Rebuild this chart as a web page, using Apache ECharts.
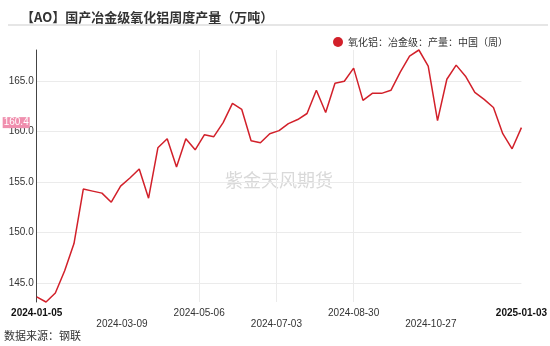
<!DOCTYPE html>
<html>
<head>
<meta charset="utf-8">
<script src="https://cdn.jsdelivr.net/npm/echarts@6/dist/echarts.min.js"></script>
<style>
  html, body { margin: 0; padding: 0; background: #fff; }
  #chart { width: 550px; height: 346px; }
</style>
</head>
<body>
<div id="chart"></div>
<script>
// Weekly dates (Fridays)
var weekDates = [
  '2024-01-05','2024-01-12','2024-01-19','2024-01-26',
  '2024-02-02','2024-02-09','2024-02-16','2024-02-23',
  '2024-03-01','2024-03-08','2024-03-15','2024-03-22','2024-03-29',
  '2024-04-05','2024-04-12','2024-04-19','2024-04-26',
  '2024-05-03','2024-05-10','2024-05-17','2024-05-24','2024-05-31',
  '2024-06-07','2024-06-14','2024-06-21','2024-06-28',
  '2024-07-05','2024-07-12','2024-07-19','2024-07-26',
  '2024-08-02','2024-08-09','2024-08-16','2024-08-23','2024-08-30',
  '2024-09-06','2024-09-13','2024-09-20','2024-09-27',
  '2024-10-04','2024-10-11','2024-10-18','2024-10-25',
  '2024-11-01','2024-11-08','2024-11-15','2024-11-22','2024-11-29',
  '2024-12-06','2024-12-13','2024-12-20','2024-12-27',
  '2025-01-03'
];

// Metallurgical-grade alumina output, 10k tonnes
var output = [
  143.6, 143.1, 144.0, 146.2,
  148.9, 154.3, 154.1, 153.9,
  153.0, 154.6, 155.4, 156.3, 153.4,
  158.4, 159.3, 156.5, 159.3,
  158.2, 159.7, 159.5, 160.9, 162.8,
  162.2, 159.1, 158.9, 159.8,
  160.1, 160.8, 161.2, 161.8,
  164.1, 161.9, 164.8, 165.0, 166.3,
  163.1, 163.8, 163.8, 164.1,
  165.9, 167.5, 168.1, 166.5,
  161.1, 165.2, 166.6, 165.5, 163.9,
  163.2, 162.4, 159.8, 158.3,
  160.4
];

// Date labels along the x axis
var xTickLabels = ['2024-01-05','2024-03-09','2024-05-06','2024-07-03','2024-08-30','2024-10-27','2025-01-03'];

var seriesName = '氧化铝：冶金级：产量：中国（周）';
var titleText = '【AO】国产冶金级氧化铝周度产量（万吨）';
var sourceText = '数据来源：钢联';
var watermarkText = '紫金天风期货';
var latestValue = output[output.length - 1];

function toTime(s) {
  var p = s.split('-');
  return new Date(+p[0], +p[1] - 1, +p[2]).getTime();
}
function fmtDate(t) {
  var d = new Date(Math.round(t));
  var m = d.getMonth() + 1, day = d.getDate();
  return d.getFullYear() + '-' + (m < 10 ? '0' : '') + m + '-' + (day < 10 ? '0' : '') + day;
}

var labelTimes = xTickLabels.map(toTime);
var gridTimes = labelTimes.slice(1, labelTimes.length - 1);

var chart = echarts.init(document.getElementById('chart'), null, { renderer: 'canvas' });

chart.setOption({
  animation: false,
  backgroundColor: '#fff',
  textStyle: { fontFamily: 'Liberation Sans, Arial, "Noto Sans CJK SC", sans-serif' },
  title: {
    text: titleText,
    left: 16,
    top: 6,
    textStyle: {
      fontSize: 13,
      fontWeight: 'bold',
      color: '#333',
      fontFamily: '"Noto Sans CJK SC", sans-serif'
    }
  },
  legend: {
    left: 328,
    top: 32,
    icon: 'circle',
    itemWidth: 10,
    itemHeight: 10,
    itemGap: 4,
    textStyle: { fontSize: 10, color: '#333', fontFamily: '"Noto Sans CJK SC", sans-serif' },
    data: [seriesName]
  },
  graphic: [
    {
      type: 'line',
      shape: { x1: 8, y1: 25, x2: 548, y2: 25 },
      style: { stroke: '#e6e6e6', lineWidth: 2 },
      silent: true
    },
    {
      type: 'text',
      left: 225,
      top: 171,
      silent: true,
      style: {
        text: watermarkText,
        fontSize: 18,
        fill: '#d9d9d9',
        fontFamily: '"Noto Sans CJK SC", sans-serif'
      }
    },
    {
      type: 'text',
      left: 4,
      top: 330,
      silent: true,
      style: {
        text: sourceText,
        fontSize: 11,
        fill: '#333',
        fontFamily: '"Noto Sans CJK SC", sans-serif'
      }
    }
  ],
  grid: { left: 36.7, right: 28, top: 50, bottom: 44, containLabel: false },
  xAxis: {
    type: 'value',
    min: toTime(weekDates[0]),
    max: toTime(weekDates[weekDates.length - 1]),
    axisLine: { show: false },
    axisTick: { show: false, customValues: gridTimes },
    splitLine: { show: true, showMinLine: false, showMaxLine: false, lineStyle: { color: '#ebebeb', width: 1 } },
    axisLabel: {
      customValues: labelTimes,
      showMinLabel: true,
      showMaxLabel: true,
      hideOverlap: false,
      margin: 6,
      fontSize: 10,
      lineHeight: 11,
      color: '#333',
      formatter: function (val) {
        var s = fmtDate(val);
        var i = xTickLabels.indexOf(s);
        if (i === 0 || i === xTickLabels.length - 1) return '{b|' + s + '}';
        if (i % 2 === 1) return '\n{n|' + s + '}';
        return '{n|' + s + '}';
      },
      rich: {
        b: { fontSize: 10, fontWeight: 'bold', color: '#111', lineHeight: 11 },
        n: { fontSize: 10, color: '#333', lineHeight: 11 }
      }
    }
  },
  yAxis: {
    type: 'value',
    min: 'dataMin',
    max: 'dataMax',
    axisLine: { show: true, lineStyle: { color: '#444', width: 1 } },
    axisTick: { show: false },
    splitLine: { show: true, showMinLine: false, showMaxLine: false, lineStyle: { color: '#ebebeb', width: 1 } },
    axisLabel: {
      showMinLabel: false,
      showMaxLabel: false,
      fontSize: 10,
      color: '#333',
      margin: 3,
      formatter: function (v) { return v.toFixed(1); }
    }
  },
  series: [{
    name: seriesName,
    type: 'line',
    clip: false,
    data: weekDates.map(function (d, i) { return [toTime(d), output[i]]; }),
    showSymbol: false,
    symbol: 'circle',
    itemStyle: { color: '#d2202a' },
    lineStyle: { color: '#d2202a', width: 1.5 },
    markLine: {
      silent: true,
      symbol: 'none',
      lineStyle: { color: 'rgba(0,0,0,0)', width: 0, type: 'solid' },
      data: [{ yAxis: latestValue }],
      label: {
        show: true,
        opacity: 1,
        position: 'start',
        distance: 7,
        offset: [0, -5],
        formatter: function () { return latestValue.toFixed(1); },
        color: '#fff',
        fontSize: 10,
        backgroundColor: '#f08fae',
        padding: [1, 1, 0, 1]
      }
    }
  }]
});
</script>
</body>
</html>
